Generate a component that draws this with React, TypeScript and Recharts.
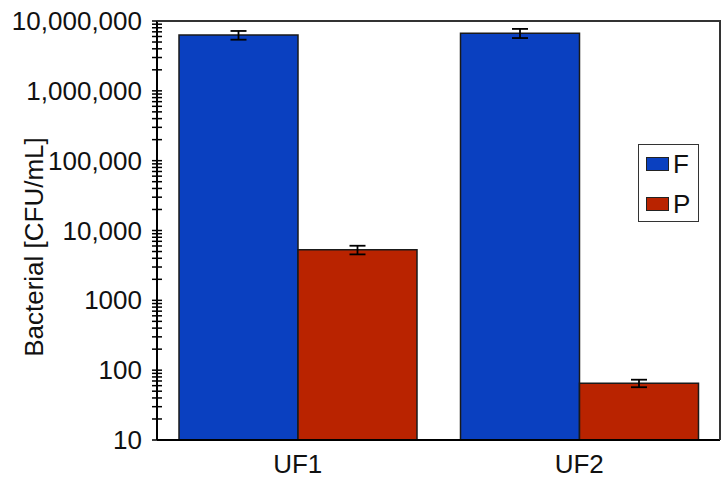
import React from 'react';
import { BarChart, Bar, XAxis, YAxis, ErrorBar } from 'recharts';

const categories = ['UF1', 'UF2'];
const fValues = [6300000, 6700000];
const fErrors = [900000, 1000000];
const pValues = [5300, 65];
const pErrors = [750, 8];

const majorTicks = [10, 100, 1000, 10000, 100000, 1000000, 10000000];
const majorLabels = ['10', '100', '1000', '10,000', '100,000', '1,000,000', '10,000,000'];
const minorMultipliers = [2, 3, 4, 5, 6, 7, 8, 9];
const seriesNames = ['F', 'P'];

const allTicks: number[] = [];
majorTicks.forEach((t, i) => {
  allTicks.push(t);
  if (i < majorTicks.length - 1) minorMultipliers.forEach((m) => allTicks.push(t * m));
});

const data = categories.map((c, i) => ({
  name: c,
  F: fValues[i],
  fErr: fErrors[i],
  P: pValues[i],
  pErr: pErrors[i],
}));

const FONT = 'Liberation Sans, Arial, sans-serif';
const BLUE = '#0a40c0';
const RED = '#b92300';
const COLORS = [BLUE, RED];

const TICK_SIZE = 5;
const TICK_MARGIN = 10;

const YTick = (props: any) => {
  const { x, y, payload } = props;
  const axisX = x + TICK_SIZE + TICK_MARGIN;
  const idx = majorTicks.indexOf(payload.value);
  return (
    <g>
      <line x1={axisX - 5} x2={axisX + 5} y1={y} y2={y} stroke="#000" strokeWidth={1.5} />
      {idx >= 0 && (
        <text x={x} y={y} dy={9} textAnchor="end" fontSize={26} fontFamily={FONT} fill="#111">
          {majorLabels[idx]}
        </text>
      )}
    </g>
  );
};

const YLabel = () => (
  <text
    x={34}
    y={247}
    transform="rotate(-90 34 247)"
    textAnchor="middle"
    dominantBaseline="central"
    fontSize={26}
    fontFamily={FONT}
    fill="#111"
  >
    Bacterial [CFU/mL]
  </text>
);

const LegendBox = () => (
  <div
    style={{
      position: 'absolute',
      left: 638,
      top: 144,
      border: '1.5px solid #333',
      width: 61,
      height: 78,
      background: '#fff',
      boxSizing: 'border-box',
      fontFamily: FONT,
      fontSize: 26,
      color: '#111',
    }}
  >
    {seriesNames.map((label, i) => (
      <div key={label} style={{ position: 'absolute', left: 7, top: 11 + i * 40, display: 'flex', alignItems: 'center', height: 16 }}>
        <div style={{ width: 23, height: 14, background: COLORS[i], border: '1.5px solid #222', boxSizing: 'border-box' }} />
        <span style={{ marginLeft: 4, lineHeight: '16px' }}>{label}</span>
      </div>
    ))}
  </div>
);

export default function App() {
  return (
    <div style={{ position: 'absolute', left: 0, top: 0, width: 728, height: 485, background: '#fff' }}>
      <BarChart
        width={728}
        height={485}
        data={data}
        margin={{ top: 21, right: 8, bottom: 0, left: 0 }}
        barCategoryGap={22}
        barGap={0}
      >
        <XAxis
          dataKey="name"
          height={45}
          tickLine={false}
          tickSize={0}
          tickMargin={15}
          axisLine={{ stroke: '#000', strokeWidth: 2 }}
          tick={{ fontSize: 26, fontFamily: FONT, fill: '#111' }}
        />
        <YAxis
          scale="log"
          domain={[10, 10000000]}
          ticks={allTicks}
          interval={0}
          allowDataOverflow
          width={157}
          tickLine={false}
          tickSize={TICK_SIZE}
          tickMargin={TICK_MARGIN}
          axisLine={{ stroke: '#000', strokeWidth: 2 }}
          tick={<YTick />}
          label={<YLabel />}
        />
        <Bar dataKey="F" fill={BLUE} stroke="#1a1a1a" strokeWidth={1.5} isAnimationActive={false}>
          <ErrorBar dataKey="fErr" width={8} stroke="#000" strokeWidth={1.8} direction="y" />
        </Bar>
        <Bar dataKey="P" fill={RED} stroke="#1a1a1a" strokeWidth={1.5} isAnimationActive={false}>
          <ErrorBar dataKey="pErr" width={8} stroke="#000" strokeWidth={1.8} direction="y" />
        </Bar>
      </BarChart>
      <div
        style={{
          position: 'absolute',
          left: 157,
          top: 20,
          width: 564,
          height: 420,
          borderTop: '2px solid #333',
          borderRight: '2px solid #333',
          boxSizing: 'border-box',
          pointerEvents: 'none',
        }}
      />
      <LegendBox />
    </div>
  );
}
